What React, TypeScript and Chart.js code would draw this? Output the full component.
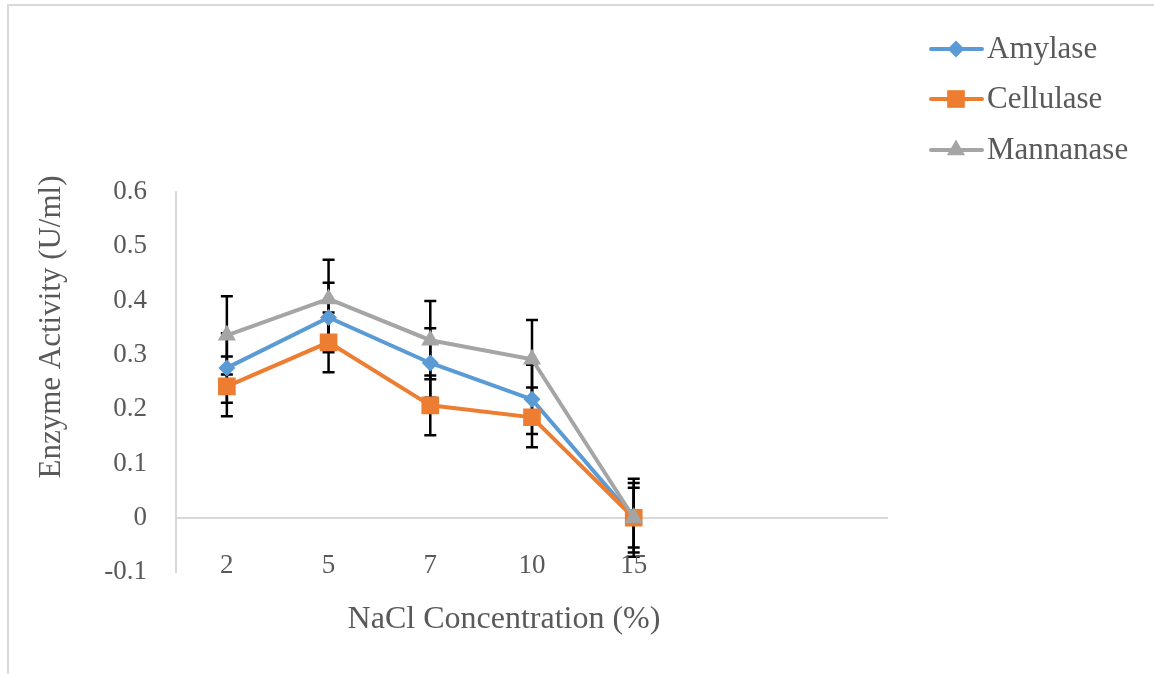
import React, { useEffect, useRef } from 'react';
import { Chart, registerables } from 'chart.js';

Chart.register(...registerables);

const categories = ['2', '5', '7', '10', '15', '', ''];
const amylase = [0.276, 0.369, 0.285, 0.218, 0];
const cellulase = [0.242, 0.323, 0.207, 0.185, 0];
const mannanase = [0.336, 0.403, 0.327, 0.292, 0];
const amylaseErr = [0.064, 0.064, 0.064, 0.064, 0.064];
const cellulaseErr = [0.055, 0.055, 0.055, 0.055, 0.055];
const mannanaseErr = [0.072, 0.072, 0.072, 0.072, 0.072];
const yMin = -0.1;
const yMax = 0.6;
const yStep = 0.1;
const xTitle = 'NaCl Concentration (%)';
const yTitle = 'Enzyme Activity (U/ml)';
const seriesNames = ['Amylase', 'Cellulase', 'Mannanase'];

const COLORS = ['#5B9BD5', '#ED7D31', '#A5A5A5'];
const STYLES = ['rectRot', 'rect', 'triangle'];
const RADII = [8.5, 12.5, 10.5];
const TEXT = '#595959';
const FONT = "'Liberation Serif', 'Times New Roman', serif";

const errorBars = {
  id: 'errorBars',
  beforeDatasetsDraw(chart: any) {
    const ctx = chart.ctx;
    const y = chart.scales.y;
    const errs = [amylaseErr, cellulaseErr, mannanaseErr];
    ctx.save();
    ctx.strokeStyle = '#000000';
    ctx.lineWidth = 2.5;
    chart.data.datasets.forEach((ds: any, i: number) => {
      const meta = chart.getDatasetMeta(i);
      ds.data.forEach((v: number, j: number) => {
        const pt = meta.data[j];
        if (!pt || v == null) return;
        const e = errs[i][j];
        const x = pt.x;
        const y1 = y.getPixelForValue(v + e);
        const y2 = y.getPixelForValue(v - e);
        ctx.beginPath();
        ctx.moveTo(x, y1);
        ctx.lineTo(x, y2);
        ctx.moveTo(x - 6, y1);
        ctx.lineTo(x + 6, y1);
        ctx.moveTo(x - 6, y2);
        ctx.lineTo(x + 6, y2);
        ctx.stroke();
      });
    });
    ctx.restore();
  },
};

function drawMarker(ctx: CanvasRenderingContext2D, style: string, x: number, y: number, r: number) {
  ctx.beginPath();
  if (style === 'rectRot') {
    ctx.moveTo(x, y - r);
    ctx.lineTo(x + r, y);
    ctx.lineTo(x, y + r);
    ctx.lineTo(x - r, y);
  } else if (style === 'rect') {
    const s = Math.SQRT1_2 * r;
    ctx.rect(x - s, y - s, 2 * s, 2 * s);
  } else {
    for (let k = 0; k < 3; k++) {
      const a = -Math.PI / 2 + (k * 2 * Math.PI) / 3;
      const px = x + Math.cos(a) * r;
      const py = y + Math.sin(a) * r;
      if (k === 0) ctx.moveTo(px, py);
      else ctx.lineTo(px, py);
    }
  }
  ctx.closePath();
  ctx.fill();
}

const extras = {
  id: 'extras',
  afterDraw(chart: any) {
    const ctx = chart.ctx;
    const xs = chart.scales.x;
    ctx.save();
    ctx.fillStyle = TEXT;

    // category labels (drawn through the x scale's tick positions)
    ctx.font = `27px ${FONT}`;
    ctx.textAlign = 'center';
    ctx.textBaseline = 'middle';
    categories.forEach((c, i) => {
      if (!c) return;
      ctx.fillText(c, xs.getPixelForTick(i), 566);
    });

    // axis titles
    ctx.font = `32px ${FONT}`;
    ctx.fillText(xTitle, 504, 620);
    ctx.save();
    ctx.translate(52, 327);
    ctx.rotate(-Math.PI / 2);
    ctx.font = `31px ${FONT}`;
    ctx.fillText(yTitle, 0, 0);
    ctx.restore();

    // legend
    const ys = [49, 99, 150];
    seriesNames.forEach((name, i) => {
      const ly = ys[i];
      ctx.strokeStyle = COLORS[i];
      ctx.lineWidth = 4;
      ctx.lineCap = 'round';
      ctx.beginPath();
      ctx.moveTo(931, ly);
      ctx.lineTo(982, ly);
      ctx.stroke();
      ctx.fillStyle = COLORS[i];
      drawMarker(ctx, STYLES[i], 956, ly, RADII[i]);
      ctx.fillStyle = TEXT;
      ctx.font = `31px ${FONT}`;
      ctx.textAlign = 'left';
      ctx.textBaseline = 'middle';
      ctx.fillText(name, 987, ly + 1);
    });
    ctx.restore();
  },
};

export default function App() {
  const ref = useRef<HTMLCanvasElement>(null);
  useEffect(() => {
    if (!ref.current) return;
    const series = [amylase, cellulase, mannanase];
    const chart = new Chart(ref.current, {
      type: 'line',
      data: {
        labels: categories,
        datasets: series.map((d, i) => ({
          label: seriesNames[i],
          data: d,
          borderColor: COLORS[i],
          backgroundColor: COLORS[i],
          borderWidth: 4,
          pointStyle: STYLES[i] as any,
          pointRadius: RADII[i],
          pointBorderWidth: 0,
          pointBackgroundColor: COLORS[i],
          tension: 0,
          order: 3 - i,
        })),
      },
      options: {
        animation: false,
        responsive: false,
        events: [],
        layout: { padding: { top: 192, right: 266, left: 0, bottom: 0 } },
        plugins: { legend: { display: false }, tooltip: { enabled: false } },
        scales: {
          x: {
            offset: true,
            grid: { display: false, offset: true },
            border: { display: false },
            ticks: { display: false, autoSkip: false },
            afterFit(scale: any) {
              scale.height = 102;
            },
          },
          y: {
            min: yMin,
            max: yMax,
            grid: {
              drawTicks: false,
              color: (c: any) => (c.tick && Math.abs(c.tick.value) < 1e-9 ? '#D9D9D9' : 'rgba(0,0,0,0)'),
              lineWidth: 2,
            },
            border: { display: true, color: '#D9D9D9', width: 2 },
            ticks: {
              stepSize: yStep,
              color: TEXT,
              font: { family: FONT, size: 27 },
              padding: 29,
              callback: (v: any) => String(Number(Number(v).toFixed(1))),
            },
            afterFit(scale: any) {
              scale.width = 176;
            },
          },
        },
      },
      plugins: [errorBars, extras],
    });
    return () => chart.destroy();
  }, []);
  return (
    <div style={{ position: 'fixed', left: 0, top: 0, width: 1154, height: 674, background: '#fff' }}>
      <div
        style={{
          position: 'absolute',
          left: 7,
          top: 4,
          width: 1300,
          height: 900,
          border: '2px solid #D9D9D9',
          boxSizing: 'border-box',
        }}
      />
      <canvas ref={ref} width={1154} height={674} style={{ position: 'absolute', left: 0, top: 0 }} />
    </div>
  );
}
